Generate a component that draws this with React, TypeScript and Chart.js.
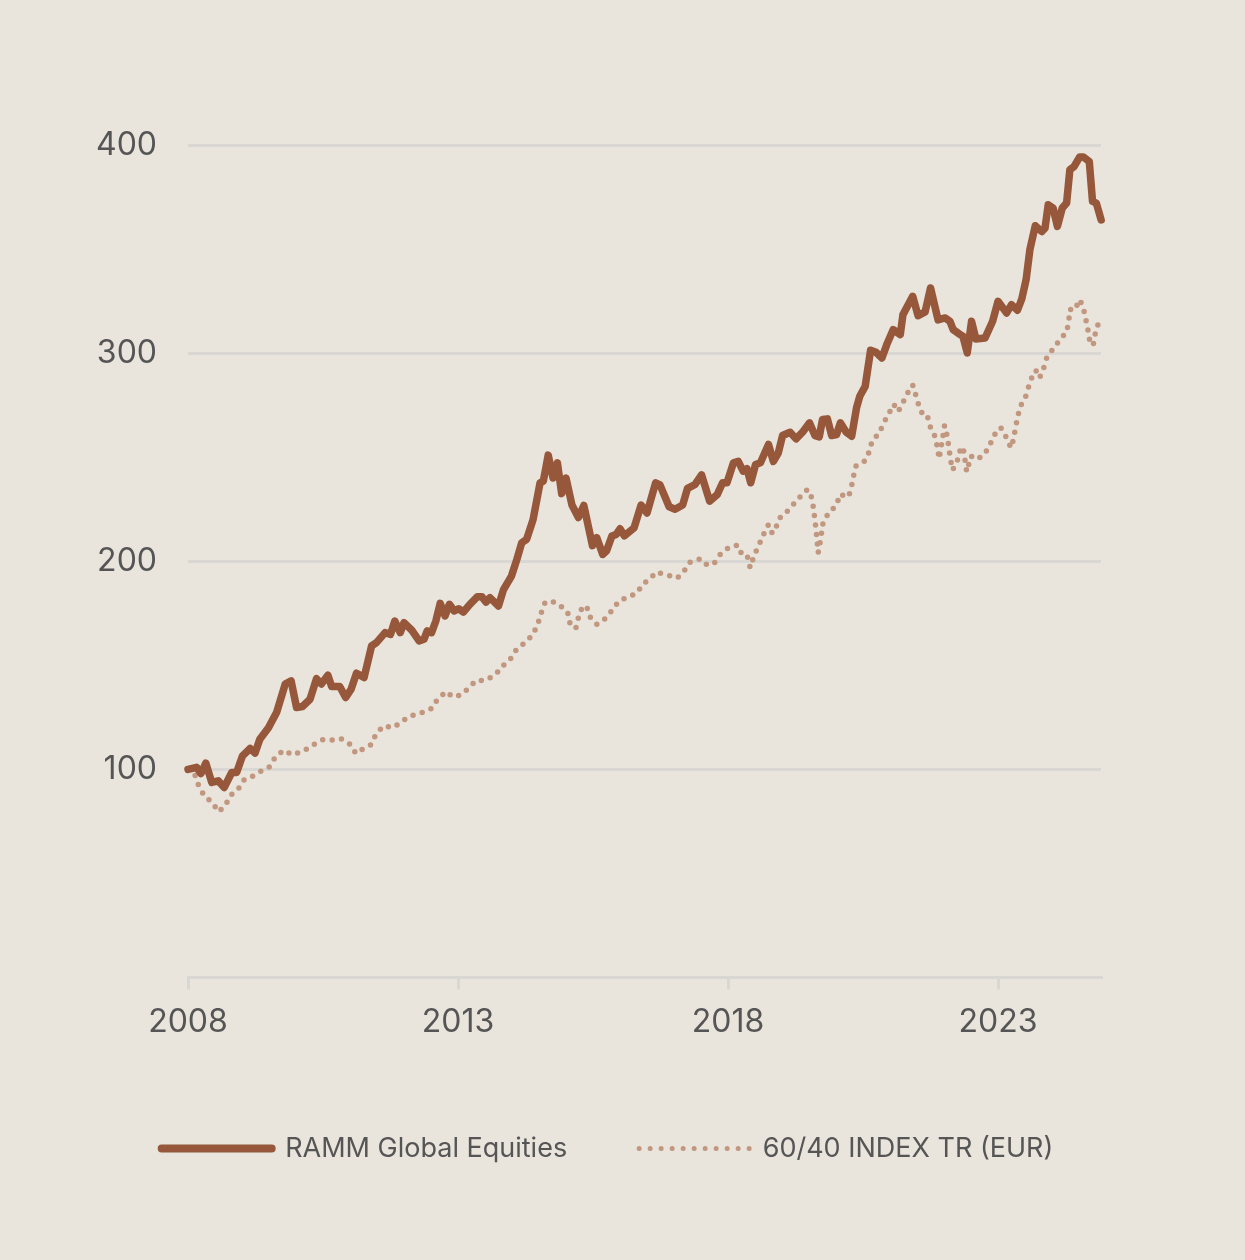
import React, { useEffect, useRef } from "react";
import { Chart, registerables } from "chart.js";

Chart.register(...registerables);

// ---- data (decimal years) ----
const rammDates = [
  2008.0, 2008.16, 2008.24, 2008.33, 2008.44, 2008.56, 2008.67, 2008.81, 2008.9, 2009.01,
  2009.15, 2009.24, 2009.33, 2009.49, 2009.64, 2009.8, 2009.91, 2010.01, 2010.12, 2010.26,
  2010.38, 2010.47, 2010.59, 2010.66, 2010.81, 2010.92, 2011.02, 2011.12, 2011.26, 2011.4,
  2011.49, 2011.65, 2011.75, 2011.83, 2011.93, 2012.0, 2012.14, 2012.28, 2012.37, 2012.43,
  2012.51, 2012.59, 2012.67, 2012.76, 2012.84, 2012.93, 2013.01, 2013.1, 2013.22, 2013.36,
  2013.44, 2013.52, 2013.59, 2013.75, 2013.84, 2013.99, 2014.09, 2014.18, 2014.27, 2014.39,
  2014.52, 2014.58, 2014.67, 2014.76, 2014.84, 2014.92, 2015.0, 2015.11, 2015.23, 2015.33,
  2015.49, 2015.57, 2015.68, 2015.75, 2015.85, 2015.93, 2016.0, 2016.08, 2016.26, 2016.39,
  2016.5, 2016.66, 2016.74, 2016.91, 2017.02, 2017.16, 2017.25, 2017.39, 2017.51, 2017.66,
  2017.8, 2017.9, 2017.98, 2018.1, 2018.19, 2018.28, 2018.35, 2018.42, 2018.51, 2018.6,
  2018.75, 2018.84, 2018.93, 2019.01, 2019.15, 2019.26, 2019.38, 2019.51, 2019.61, 2019.69,
  2019.75, 2019.84, 2019.92, 2020.01, 2020.08, 2020.19, 2020.29, 2020.38, 2020.44, 2020.54,
  2020.64, 2020.74, 2020.85, 2020.94, 2021.06, 2021.19, 2021.24, 2021.42, 2021.52, 2021.65,
  2021.75, 2021.89, 2022.02, 2022.11, 2022.17, 2022.3, 2022.35, 2022.43, 2022.51, 2022.59,
  2022.76, 2022.9, 2023.0, 2023.16, 2023.25, 2023.36, 2023.44, 2023.52, 2023.59, 2023.69,
  2023.81, 2023.87, 2023.93, 2024.02, 2024.1, 2024.19, 2024.27, 2024.33, 2024.41, 2024.51,
  2024.58, 2024.69, 2024.75, 2024.82, 2024.91,
];
const rammValues = [
  100, 101, 98, 103, 93.7, 94.5, 91.3, 98.5, 98.5, 106.5,
  110, 107.8, 114.5, 120, 127.3, 141, 142.5, 129.7, 130.2, 133.7,
  143.6, 141, 145.2, 139.8, 139.8, 134.5, 138.5, 146.2, 144.1, 159.3,
  160.9, 165.7, 164.9, 171.3, 165.7, 170.5, 167, 161.7, 162.5, 166.5,
  165.7, 171.3, 179.8, 173.7, 179.3, 176.1, 177.2, 175.6, 179.3, 183,
  183, 180.4, 182.5, 178.5, 186.2, 192.9, 200.9, 208.9, 210.5, 220,
  237.7, 238.5, 251, 240, 247.3, 232.5, 240, 227, 221, 226.8,
  207.5, 211.3, 203.3, 204.9, 212.1, 212.9, 215.6, 212.2, 216, 227,
  223.2, 237.7, 236.7, 226.2, 225, 227, 235, 236.9, 241.5, 228.9,
  232, 237.7, 237.7, 247.3, 248, 243.3, 244.5, 237.7, 246.5, 247.3,
  256.1, 248, 252, 260.4, 262, 258.8, 262, 266.5, 260.4, 259.8,
  268.1, 268.4, 260.4, 260.9, 266.5, 262, 260.1, 273.7, 279.3, 284,
  301.4, 300.4, 297.7, 304.1, 311.3, 308.9, 318.5, 327.3, 318, 319.8,
  331.3, 316, 316.9, 315.3, 311.3, 308.9, 308.1, 300.1, 315.3, 306.8,
  307.3, 315.3, 324.9, 319.3, 323.3, 320.6, 326, 335.3, 349.7, 361.2,
  358.4, 360, 371.3, 369.7, 360.9, 369.7, 372.1, 388.1, 389.7, 394.2,
  394.2, 392.1, 372.9, 372.1, 364,
];

const indexDates = [
  2008.0, 2008.13, 2008.2, 2008.3, 2008.46, 2008.56, 2008.69, 2008.78, 2008.93, 2009.04,
  2009.21, 2009.36, 2009.52, 2009.62, 2009.78, 2009.93, 2010.14, 2010.32, 2010.48, 2010.64,
  2010.83, 2011.0, 2011.11, 2011.25, 2011.39, 2011.48, 2011.62, 2011.81, 2011.96, 2012.12,
  2012.31, 2012.51, 2012.62, 2012.78, 2012.9, 2013.05, 2013.19, 2013.33, 2013.52, 2013.7,
  2013.83, 2013.98, 2014.09, 2014.25, 2014.39, 2014.48, 2014.54, 2014.61, 2014.73, 2014.86,
  2014.96, 2015.03, 2015.07, 2015.18, 2015.23, 2015.3, 2015.38, 2015.44, 2015.57, 2015.74,
  2015.86, 2015.98, 2016.15, 2016.31, 2016.43, 2016.55, 2016.67, 2016.86, 2017.06, 2017.2,
  2017.3, 2017.49, 2017.62, 2017.75, 2017.86, 2018.01, 2018.18, 2018.27, 2018.36, 2018.41,
  2018.48, 2018.57, 2018.65, 2018.75, 2018.82, 2018.88, 2018.95, 2019.09, 2019.21, 2019.33,
  2019.47, 2019.54, 2019.58, 2019.63, 2019.67, 2019.7, 2019.76, 2019.87, 2020.01, 2020.07,
  2020.23, 2020.28, 2020.32, 2020.37, 2020.53, 2020.62, 2020.67, 2020.8, 2020.87, 2020.97,
  2021.07, 2021.15, 2021.22, 2021.31, 2021.42, 2021.48, 2021.54, 2021.61, 2021.69, 2021.74,
  2021.83, 2021.88, 2021.91, 2021.99, 2022.01, 2022.06, 2022.12, 2022.16, 2022.27, 2022.31,
  2022.36, 2022.42, 2022.5, 2022.61, 2022.75, 2022.85, 2022.94, 2023.05, 2023.15, 2023.24,
  2023.28, 2023.36, 2023.41, 2023.51, 2023.57, 2023.64, 2023.7, 2023.77, 2023.85, 2023.91,
  2024.04, 2024.16, 2024.27, 2024.31, 2024.33, 2024.43, 2024.5, 2024.57, 2024.66, 2024.69,
  2024.76, 2024.8, 2024.86, 2024.91,
];
const indexValues = [
  100, 97.2, 92, 87.3, 83.8, 79.6, 82.5, 87.3, 90.5, 95,
  96.9, 99.3, 101.4, 106.2, 109.2, 107, 108.9, 111.8, 114.2, 114,
  114.8, 112.1, 107.6, 110, 111.8, 116.9, 120.9, 120.1, 123, 125.7,
  127, 129.2, 133.7, 137.4, 134.8, 135.7, 138.8, 142.6, 142.8, 145.7,
  149.7, 153.4, 158, 161, 164.9, 170, 175.1, 180.1, 180.9, 179.3,
  177.2, 175.6, 170.5, 167.6, 172.9, 178, 178.5, 173.4, 169.7, 172.7,
  176.7, 180.9, 182.8, 184.6, 189.2, 191.3, 194.8, 193.5, 191.9, 195.8,
  199.6, 201.2, 198, 199.3, 203.4, 206.5, 207.8, 202.5, 202.2, 196.9,
  202.5, 207.6, 212.5, 217.7, 213.4, 215.6, 220.6, 223.8, 227.3, 230.8,
  234.5, 231.3, 226, 215.3, 204.1, 208.1, 218.5, 223.6, 226.8, 232.1,
  230.8, 235, 240.4, 245.7, 248.1, 252.9, 258.1, 261.4, 265.8, 270.6,
  275.4, 271.9, 275.1, 280.1, 284.7, 279.6, 274.2, 270.3, 270, 264.9,
  260.1, 254.5, 249.2, 261.7, 265.2, 260.1, 248.9, 243.8, 249.7, 255,
  253.7, 243, 250.5, 248.9, 251.3, 256.1, 261, 264.2, 259.6, 254.5,
  258, 268.9, 274.2, 279, 284.1, 289.3, 291.7, 288.1, 293.2, 298.5,
  302.6, 307, 310, 315.3, 321, 320.8, 325.7, 323, 312.1, 306.8,
  303.6, 309.2, 314.5, 316,
];

const seriesNames = ["RAMM Global Equities", "60/40 INDEX TR (EUR)"];
const xTickYears = [2008, 2013, 2018, 2023];
const yTickValues = [0, 100, 200, 300, 400];

const BG = "#e9e4dc";
const SOLID = "#96573a";
const DOTTED = "#c1977f";
const GRID = "#d9d7d3";
const TEXT = "#555555";
const FONT = "Inter, 'Noto Sans', sans-serif";

export default function App() {
  const ref = useRef<HTMLCanvasElement | null>(null);

  useEffect(() => {
    document.body.style.margin = "0";
    document.body.style.background = BG;
    document.documentElement.style.background = BG;
    const canvas = ref.current;
    if (!canvas) return;

    const chart = new Chart(canvas, {
      type: "line",
      data: {
        datasets: [
          {
            label: seriesNames[0],
            data: rammDates.map((d, i) => ({ x: d, y: rammValues[i] })),
            borderColor: SOLID,
            borderWidth: 7.5,
            borderJoinStyle: "round",
            borderCapStyle: "round",
            pointRadius: 0,
            tension: 0,
            fill: false,
            clip: false,
            yAxisID: "y",
          },
          {
            label: seriesNames[1],
            data: indexDates.map((d, i) => ({ x: d, y: indexValues[i] })),
            borderColor: DOTTED,
            borderWidth: 5.5,
            borderDash: [0, 9.5],
            borderCapStyle: "round",
            borderJoinStyle: "round",
            pointRadius: 0,
            tension: 0,
            fill: false,
            clip: false,
            yAxisID: "y",
          },
        ],
      },
      options: {
        responsive: false,
        animation: false,
        events: [],
        layout: { padding: { left: 0, right: 30, top: 145, bottom: 88 } },
        scales: {
          x: {
            type: "linear",
            min: 2008,
            max: 2024.907,
            afterBuildTicks: (scale: any) => {
              scale.ticks = xTickYears.map((v) => ({ value: v }));
            },
            afterFit: (scale: any) => {
              scale.height = 85.5;
            },
            border: { display: true, color: GRID, width: 3 },
            grid: {
              drawOnChartArea: false,
              drawTicks: true,
              tickLength: 12,
              color: GRID,
              lineWidth: 3,
            },
            ticks: {
              autoSkip: false,
              maxRotation: 0,
              padding: 14,
              color: TEXT,
              font: { family: FONT, size: 32 },
              callback: (v: any) => String(v),
            },
          },
          y: {
            type: "linear",
            position: "left",
            min: 0,
            max: 400,
            afterBuildTicks: (scale: any) => {
              scale.ticks = yTickValues.map((v) => ({ value: v }));
            },
            afterFit: (scale: any) => {
              scale.width = 188;
            },
            border: { display: false },
            grid: {
              color: GRID,
              lineWidth: 3,
              drawTicks: false,
              tickLength: 0,
            },
            ticks: {
              padding: 31,
              color: TEXT,
              font: { family: FONT, size: 32 },
              callback: (v: any) => (v === 0 ? "" : String(v)),
            },
          },
          yRightSpace: {
            type: "linear",
            position: "right",
            display: true,
            min: 0,
            max: 400,
            afterFit: (scale: any) => {
              scale.width = 114;
            },
            border: { display: false },
            grid: { display: false, drawTicks: false },
            ticks: { display: false },
          },
        },
        plugins: {
          tooltip: { enabled: false },
          legend: {
            display: true,
            position: "bottom",
            align: "center",
            labels: {
              boxWidth: 110,
              boxHeight: 0,
              padding: 72,
              color: TEXT,
              font: { family: FONT, size: 27 },
              generateLabels: () => [
                {
                  text: seriesNames[0],
                  fillStyle: "rgba(0,0,0,0)",
                  strokeStyle: SOLID,
                  lineWidth: 8,
                  lineCap: "round",
                  lineJoin: "round",
                  lineDash: [],
                  hidden: false,
                  datasetIndex: 0,
                  fontColor: TEXT,
                },
                {
                  text: seriesNames[1],
                  fillStyle: "rgba(0,0,0,0)",
                  strokeStyle: DOTTED,
                  lineWidth: 5,
                  lineCap: "round",
                  lineJoin: "round",
                  lineDash: [0, 11],
                  hidden: false,
                  datasetIndex: 1,
                  fontColor: TEXT,
                },
              ],
            },
          },
        },
      } as any,
    });

    return () => chart.destroy();
  }, []);

  return (
    <div style={{ width: 1245, height: 1260, background: BG }}>
      <canvas ref={ref} width={1245} height={1260} style={{ display: "block", width: 1245, height: 1260 }} />
    </div>
  );
}
